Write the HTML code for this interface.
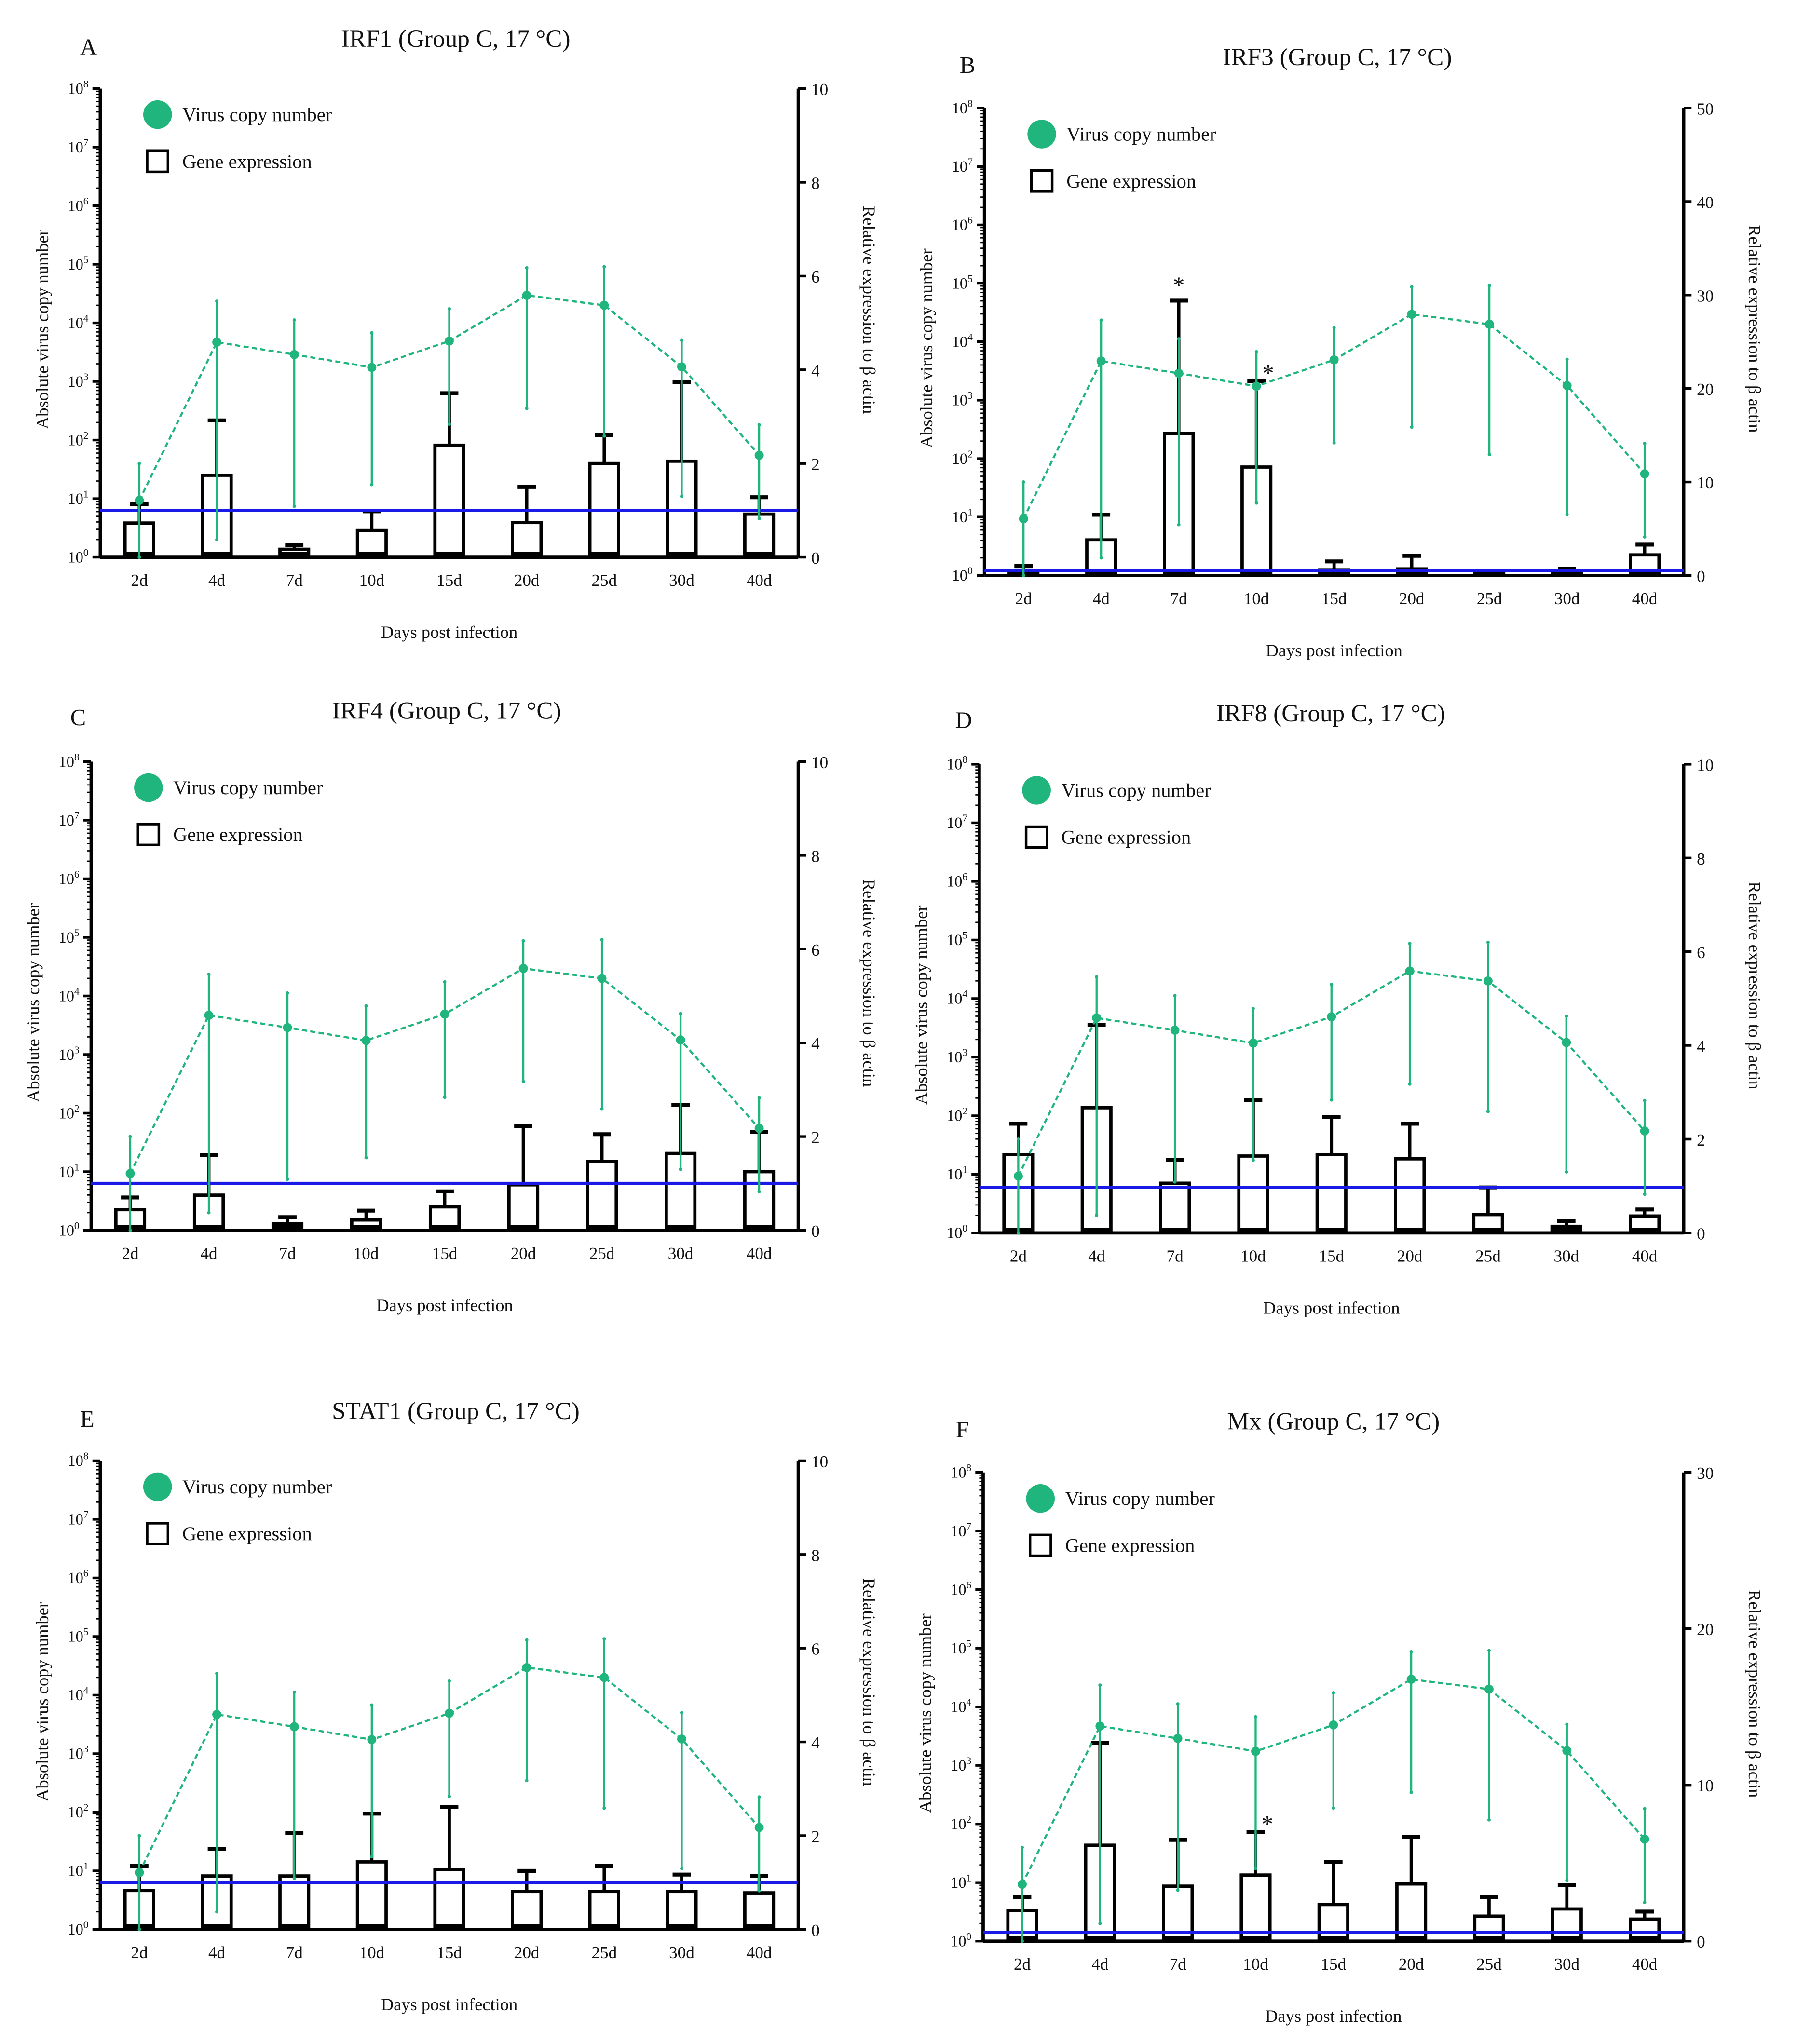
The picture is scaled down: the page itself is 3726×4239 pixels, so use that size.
<!DOCTYPE html>
<html><head><meta charset="utf-8"><style>
html,body{margin:0;padding:0;background:#fff;}
svg{display:block;}
text{font-family:"Liberation Serif",serif;fill:#111;}
</style></head>
<body>
<svg id="fig" xmlns="http://www.w3.org/2000/svg" width="3726" height="4239" viewBox="0 0 1380 1570" preserveAspectRatio="none"></svg>
<script>
const categories = ["2d","4d","7d","10d","15d","20d","25d","30d","40d"];
// virus copy number, log10 values (shared by all panels)
const virusMean = [0.97,3.67,3.46,3.24,3.69,4.47,4.30,3.25,1.74];
const virusUpper = [1.6,4.37,4.05,3.83,4.24,4.94,4.96,3.70,2.26];
const virusLower = [0.0,0.3,0.87,1.24,2.27,2.54,2.07,1.04,0.66];
// gene expression per panel (relative expression)
const geneA = [0.73,1.75,0.17,0.57,2.39,0.74,2.0,2.05,0.92];
const errA  = [1.13,2.92,0.26,0.98,3.5,1.5,2.6,3.74,1.28];
const geneB = [0.4,3.8,15.2,11.6,0.6,0.7,0.3,0.4,2.2];
const errB  = [1.0,6.5,29.4,20.8,1.5,2.1,0.3,0.7,3.3];
const geneC = [0.44,0.75,0.14,0.22,0.5,0.97,1.47,1.64,1.25];
const errC  = [0.7,1.6,0.28,0.42,0.83,2.22,2.05,2.67,2.1];
const geneD = [1.67,2.67,1.06,1.64,1.67,1.58,0.39,0.14,0.36];
const errD  = [2.33,4.44,1.56,2.83,2.47,2.33,0.97,0.25,0.5];
const geneE = [0.83,1.14,1.14,1.44,1.28,0.81,0.81,0.81,0.78];
const errE  = [1.36,1.72,2.06,2.47,2.61,1.25,1.36,1.17,1.14];
const geneF = [1.97,6.14,3.52,4.23,2.34,3.66,1.6,2.06,1.41];
const errF  = [2.82,12.7,6.48,6.99,5.07,6.68,2.82,3.58,1.89];
const rightMax = [10,50,10,10,10,30];
const rightStep = [2,10,2,2,2,10];
const refLine = [1.0,0.55,1.0,0.97,1.0,0.56];
const titles = ["IRF1 (Group C, 17 °C)","IRF3 (Group C, 17 °C)","IRF4 (Group C, 17 °C)","IRF8 (Group C, 17 °C)","STAT1 (Group C, 17 °C)","Mx (Group C, 17 °C)"];
const letters = ["A","B","C","D","E","F"];
const starsB = [2,3];
const starsF = [3];

const panels = [
 {L:77,R:613,T:68,B:428,tx:350,ty:36,lx:68,ly:42,gene:geneA,err:errA,stars:[]},
 {L:756,R:1293,T:83,B:442,tx:1027,ty:50,lx:743,ly:56,gene:geneB,err:errB,stars:starsB},
 {L:70,R:613,T:585,B:945,tx:343,ty:552,lx:60,ly:557,gene:geneC,err:errC,stars:[]},
 {L:752,R:1293,T:587,B:947,tx:1022,ty:554,lx:740,ly:559,gene:geneD,err:errD,stars:[]},
 {L:77,R:613,T:1122,B:1482,tx:350,ty:1090,lx:67,ly:1096,gene:geneE,err:errE,stars:[]},
 {L:755,R:1293,T:1131,B:1491,tx:1024,ty:1098,lx:739,ly:1104,gene:geneF,err:errF,stars:starsF}
];
const NS="http://www.w3.org/2000/svg";
const svg=document.getElementById('fig');
function mk(tag,attrs,parent){const e=document.createElementNS(NS,tag);for(const k in attrs)e.setAttribute(k,attrs[k]);(parent||svg).appendChild(e);return e;}
const GREEN="#1fb57d";
panels.forEach((p,i)=>{
  const g=mk('g',{});
  
  
  const yL=v=>p.B-(v/8)*(p.B-p.T);
  const yR=v=>p.B-(v/rightMax[i])*(p.B-p.T);
  const first=p.L+30, step=(p.R-p.L-60)/8;
  const xC=k=>first+k*step;
  let t=mk('text',{x:p.tx,y:p.ty,'text-anchor':'middle','font-size':19},g);t.textContent=titles[i];
  
  t=mk('text',{x:p.lx,y:p.ly,'text-anchor':'middle','font-size':18},g);t.textContent=letters[i];
  
  // axes
  let a=mk('line',{x1:p.L,y1:p.T,x2:p.L,y2:p.B,stroke:'#000','stroke-width':2.5},g);
  
  a=mk('line',{x1:p.R,y1:p.T,x2:p.R,y2:p.B,stroke:'#000','stroke-width':2.5},g);
  
  a=mk('line',{x1:p.L,y1:p.B,x2:p.R,y2:p.B,stroke:'#000','stroke-width':2.5},g);
  
  for(let d=0;d<=8;d++){
    const y=yL(d);
    mk('line',{x1:p.L-6,y1:y,x2:p.L,y2:y,stroke:'#000','stroke-width':2},g);
    if(d<8)for(let m=2;m<10;m++){const ym=yL(d+Math.log10(m));mk('line',{x1:p.L-3,y1:ym,x2:p.L,y2:ym,stroke:'#000','stroke-width':1},g);}
    const tl=mk('text',{x:p.L-9,y:y+4,'text-anchor':'end','font-size':12},g);
    
    tl.innerHTML='10<tspan dy="-5" font-size="8">'+d+'</tspan>';
  }
  for(let v=0;v<=rightMax[i];v+=rightStep[i]){
    const y=yR(v);
    mk('line',{x1:p.R,y1:y,x2:p.R+6,y2:y,stroke:'#000','stroke-width':2},g);
    const tl=mk('text',{x:p.R+10,y:y+5,'font-size':13},g);tl.textContent=v;
    
  }
  categories.forEach((c,k)=>{
    const tl=mk('text',{x:xC(k),y:p.B+22,'text-anchor':'middle','font-size':13},g);tl.textContent=c;
    
  });
  t=mk('text',{x:(p.L+p.R)/2,y:p.B+62,'text-anchor':'middle','font-size':13.5},g);t.textContent='Days post infection';
  
  const cy=(p.T+p.B)/2;
  t=mk('text',{x:0,y:0,'text-anchor':'middle','font-size':13.5,transform:`translate(${p.L-40},${cy+5}) rotate(-90)`},g);t.textContent='Absolute virus copy number';
  
  t=mk('text',{x:0,y:0,'text-anchor':'middle','font-size':13.5,transform:`translate(${p.R+50},${cy-10}) rotate(90)`},g);t.textContent='Relative expression to β actin';
  
  // bars
  p.gene.forEach((v,k)=>{
    const x=xC(k), yt=yR(v), ye=yR(p.err[k]);
    if(ye<yt-1){
      const e=mk('line',{x1:x,y1:yt,x2:x,y2:ye,stroke:'#000','stroke-width':2.5},g);
      
      mk('line',{x1:x-7,y1:ye,x2:x+7,y2:ye,stroke:'#000','stroke-width':3},g);
    }
    const b=mk('rect',{x:x-11,y:yt,width:22,height:Math.max(p.B-yt-2,1),fill:'none',stroke:'#000','stroke-width':2.5},g);
    
    mk('rect',{x:x-11,y:p.B-4,width:22,height:4,fill:'#000'},g);
  });
  p.stars.forEach(k=>{
    const s=mk('text',{x:xC(k)+(i===1&&k===2?0:9),y:yR(p.err[k])-(i===1&&k===2?6:0),'text-anchor':'middle','font-size':18,'font-family':'Liberation Sans'},g);s.textContent='*';
    
  });
  // blue ref line
  const rl=mk('line',{x1:p.L,y1:yR(refLine[i]),x2:p.R,y2:yR(refLine[i]),stroke:'#1a1ae6','stroke-width':2.5},g);
  
  // virus series
  virusMean.forEach((v,k)=>{
    const x=xC(k);
    const e=mk('line',{x1:x,y1:yL(virusLower[k]),x2:x,y2:yL(virusUpper[k]),stroke:GREEN,'stroke-width':1.6},g);
    
    mk('circle',{cx:x,cy:yL(virusUpper[k]),r:1.3,fill:GREEN},g);
    mk('circle',{cx:x,cy:yL(virusLower[k]),r:1.3,fill:GREEN},g);
  });
  const pts=virusMean.map((v,k)=>xC(k)+','+yL(v)).join(' ');
  const pl=mk('polyline',{points:pts,fill:'none',stroke:GREEN,'stroke-width':1.6,'stroke-dasharray':'4,2.5'},g);
  
  virusMean.forEach((v,k)=>{
    const c=mk('circle',{cx:xC(k),cy:yL(v),r:3.5,fill:GREEN},g);
    
  });
  // legend
  const lg=mk('g',{},g);
  const lx=p.L+44, ly=p.T+20;
  mk('circle',{cx:lx,cy:ly,r:11,fill:GREEN},lg);
  t=mk('text',{x:lx+19,y:ly+5,'font-size':15},lg);t.textContent='Virus copy number';
  
  mk('rect',{x:lx-8,y:ly+28,width:16,height:16,fill:'none',stroke:'#000','stroke-width':2},lg);
  t=mk('text',{x:lx+19,y:ly+41,'font-size':15},lg);t.textContent='Gene expression';
  
});
</script>
</body></html>
